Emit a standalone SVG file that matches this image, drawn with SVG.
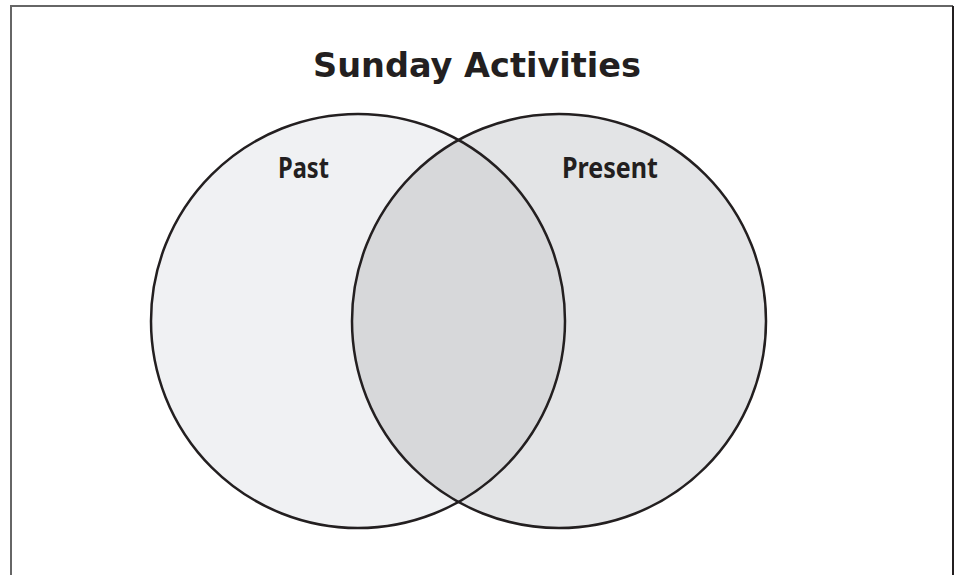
<svg xmlns="http://www.w3.org/2000/svg" width="956" height="575" viewBox="0 0 956 575">
<style>
.ring{fill:none;stroke:#231f20;stroke-width:2.5}
.title{font-family:"DejaVu Sans",sans-serif;font-weight:bold;font-size:33px;fill:#231f20}
.lbl{font-family:"Noto Sans","Liberation Sans",sans-serif;font-weight:bold;font-size:29px;fill:#231f20}
</style>
<defs>
<clipPath id="clipL"><circle cx="358" cy="321" r="207"/></clipPath>
</defs>
<rect width="956" height="575" fill="#ffffff"/>
<g id="frame">
<path d="M11,576 V6 H953" fill="none" stroke="#666" stroke-width="2"/>
<path d="M953,6 V576" fill="none" stroke="#231f20" stroke-width="2"/>
</g>
<g id="past">
<circle cx="358" cy="321" r="207" fill="#f0f1f3"/>
</g>
<g id="present">
<circle cx="559" cy="321" r="207" fill="#e3e4e6"/>
</g>
<g id="overlap">
<circle cx="559" cy="321" r="207" fill="#d7d8da" clip-path="url(#clipL)"/>
</g>
<g id="outlines">
<circle class="ring" cx="358" cy="321" r="207"/>
<circle class="ring" cx="559" cy="321" r="207"/>
</g>
<g id="title">
<text class="title" x="477" y="77" text-anchor="middle" textLength="328" lengthAdjust="spacingAndGlyphs">Sunday Activities</text>
</g>
<g id="labels">
<text class="lbl" x="278" y="178" textLength="51" lengthAdjust="spacingAndGlyphs">Past</text>
<text class="lbl" x="562" y="178" textLength="96" lengthAdjust="spacingAndGlyphs">Present</text>
</g>
</svg>
